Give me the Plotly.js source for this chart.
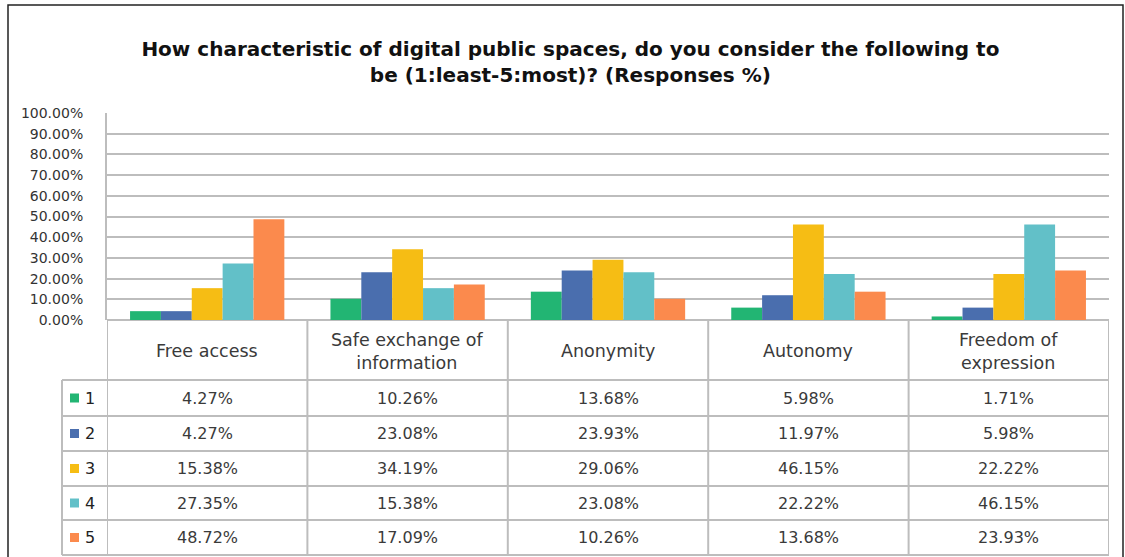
<!DOCTYPE html>
<html><head><meta charset="utf-8">
<script src="https://cdn.plot.ly/plotly-3.0.1.min.js"></script>
<style>html,body{margin:0;padding:0;background:#fff;}#chart{width:1125px;height:557px;}</style>
</head><body><div id="chart"></div>
<script>
const categories = ["Free access", "Safe exchange of<br>information", "Anonymity", "Autonomy", "Freedom of<br>expression"];
const seriesNames = ["1", "2", "3", "4", "5"];
const s1 = [0.0427, 0.1026, 0.1368, 0.0598, 0.0171];
const s2 = [0.0427, 0.2308, 0.2393, 0.1197, 0.0598];
const s3 = [0.1538, 0.3419, 0.2906, 0.4615, 0.2222];
const s4 = [0.2735, 0.1538, 0.2308, 0.2222, 0.4615];
const s5 = [0.4872, 0.1709, 0.1026, 0.1368, 0.2393];
const colors = ["#22b573", "#4a6eae", "#f6bd14", "#62c0c8", "#fb8a4d"];
const titleText = "How characteristic of digital public spaces, do you consider the following to<br>be (1:least-5:most)? (Responses %)";

const series = [s1, s2, s3, s4, s5];
const W = 1125, H = 557;
const L = 107, R = 1109, T = 113, B = 320;
const xp = px => (px - L) / (R - L);
const yp = py => (B - py) / (B - T);
const idx = categories.map((c, i) => i);

const traces = series.map((s, k) => ({
  type: 'bar', x: idx, y: s, name: seriesNames[k],
  marker: {color: colors[k], line: {width: 0}}, hoverinfo: 'none'
}));

const gridCol = '#bdbdbd';
const textCol = '#3a3a3a';
const font = 'DejaVu Sans, sans-serif';
const rowLines = [380, 416, 451, 486, 520, 555];
const shapes = [];
const annotations = [];
// outer border
shapes.push({type: 'rect', xref: 'paper', yref: 'paper', x0: xp(8), x1: xp(1123), y0: yp(5), y1: yp(620), line: {color: '#222', width: 1.5}});
// horizontal table lines
rowLines.forEach(py => shapes.push({type: 'line', xref: 'paper', yref: 'paper', x0: xp(62), x1: 1, y0: yp(py), y1: yp(py), line: {color: gridCol, width: 2}}));
// vertical lines at category boundaries
for (let i = 0; i <= categories.length; i++) {
  shapes.push({type: 'line', xref: 'x', yref: 'paper', x0: i - 0.5, x1: i - 0.5, y0: 0, y1: yp(555), line: {color: gridCol, width: 2}});
}
// legend column left border
shapes.push({type: 'line', xref: 'paper', yref: 'paper', x0: xp(62), x1: xp(62), y0: yp(380), y1: yp(555), line: {color: gridCol, width: 2}});
// header labels
categories.forEach((c, i) => annotations.push({xref: 'x', yref: 'paper', x: i, y: yp(351), yanchor: 'middle', xanchor: 'center', text: c, showarrow: false, font: {family: font, size: 17.5, color: textCol}, align: 'center'}));
// cell values
series.forEach((s, k) => {
  const cy = (rowLines[k] + rowLines[k + 1]) / 2;
  s.forEach((v, i) => annotations.push({xref: 'x', yref: 'paper', x: i, y: yp(cy), yanchor: 'middle', xanchor: 'center', text: (v * 100).toFixed(2) + '%', showarrow: false, font: {family: font, size: 16, color: textCol}}));
  // legend key
  shapes.push({type: 'rect', xref: 'paper', yref: 'paper', x0: xp(70), x1: xp(79), y0: yp(cy - 4.5), y1: yp(cy + 4.5), fillcolor: colors[k], line: {width: 0}});
  annotations.push({xref: 'paper', yref: 'paper', x: xp(83), y: yp(cy), xanchor: 'left', yanchor: 'middle', text: seriesNames[k], showarrow: false, font: {family: font, size: 16, color: '#222'}});
});

const layout = {
  width: W, height: H,
  margin: {l: L, r: W - R, t: T, b: H - B, pad: 0},
  paper_bgcolor: '#fff', plot_bgcolor: '#fff',
  showlegend: false,
  barmode: 'group', bargap: 0.23, bargroupgap: 0,
  title: {text: titleText, x: 0.507, xanchor: 'center', y: 1 - 56 / H, yanchor: 'middle', font: {family: font, size: 20, color: '#111', weight: 'bold'}},
  xaxis: {range: [-0.5, 4.5], showticklabels: false, showgrid: false, zeroline: false, showline: false, fixedrange: true},
  yaxis: {range: [0, 1], dtick: 0.1, tickformat: '.2%', showgrid: true, gridcolor: gridCol, gridwidth: 2, zeroline: true, zerolinecolor: gridCol, zerolinewidth: 2,
    showline: true, linecolor: gridCol, linewidth: 2, ticks: '', ticklabelstandoff: 19, tickfont: {family: font, size: 14, color: '#333'}, fixedrange: true},
  shapes: shapes, annotations: annotations
};
Plotly.newPlot('chart', traces, layout, {displayModeBar: false, staticPlot: true});
</script></body></html>
